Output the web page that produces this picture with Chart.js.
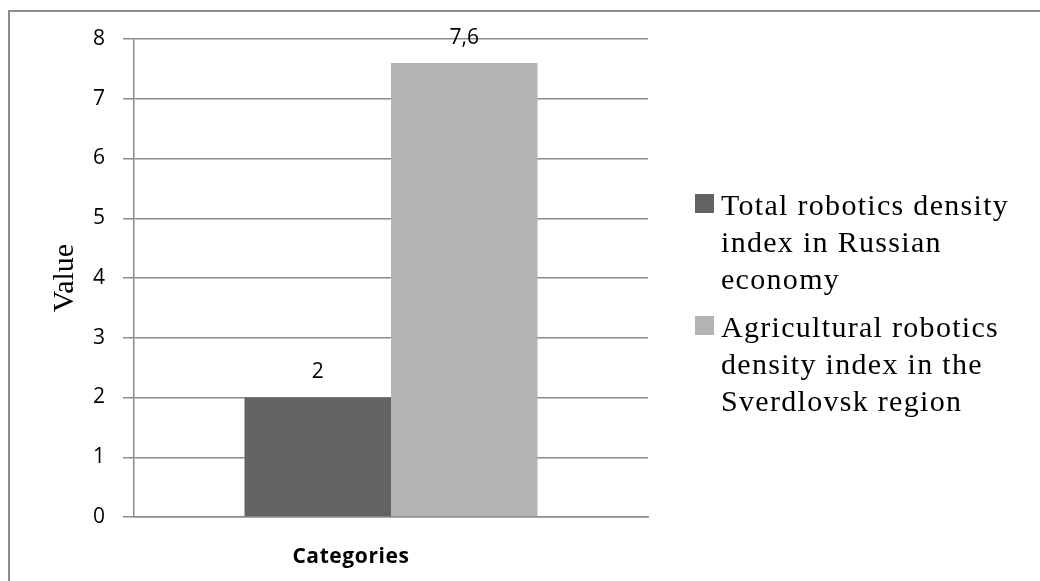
<!DOCTYPE html>
<html lang="en">
<head>
<meta charset="utf-8">
<title>Robotics density</title>
<script src="https://cdn.jsdelivr.net/npm/chart.js@4.4.0/dist/chart.umd.min.js"></script>
<style>
  html, body { margin: 0; padding: 0; background: #fff; }
  #wrap { position: relative; width: 1040px; height: 581px; overflow: hidden; }
  #frame { position: absolute; left: 8px; top: 10px; width: 1100px; height: 650px;
           border: 2px solid #8c8c8c; box-sizing: border-box; }
  #box { position: absolute; left: 0; top: 0; width: 1040px; height: 581px; }
  #xtitle { position: absolute; left: 251px; width: 200px; top: 542px; text-align: center;
            font-family: "Open Sans", "Liberation Sans", sans-serif; font-weight: bold;
            font-size: 21px; letter-spacing: 0.6px; line-height: 26px; color: #000; }
  #legend { position: absolute; left: 695px; top: 186px; width: 345px;
            font-family: "Liberation Serif", "Times New Roman", serif; font-size: 30px;
            letter-spacing: 1.3px; line-height: 37px; color: #000; white-space: nowrap; }
  #legend .item { position: relative; padding-left: 26px; margin-bottom: 11px; }
  #legend .sw { position: absolute; left: 0; top: 8px; width: 19px; height: 19px; }
</style>
</head>
<body>
<div id="wrap">
  <div id="frame"></div>
  <div id="box"><canvas id="mycanvas"></canvas></div>
  <div id="xtitle">Categories</div>
  <div id="legend"></div>
</div>

<script>
// one category, two series
const categories = [''];
const seriesNames = [
  ['Total robotics density', 'index in Russian', 'economy'],
  ['Agricultural robotics', 'density index in the', 'Sverdlovsk region']
];
const seriesValues = [[2], [7.6]];
const seriesColors = ['#636363', '#b3b3b3'];
const yTicks = [0, 1, 2, 3, 4, 5, 6, 7, 8];

const gridColor = '#8c8c8c';
const sansFont = '"Open Sans", "Liberation Sans", sans-serif';

// numbers above the bars, decimal comma
const barLabels = {
  id: 'barLabels',
  afterDatasetsDraw(chart) {
    const ctx = chart.ctx;
    ctx.save();
    ctx.font = '21px ' + sansFont;
    ctx.fillStyle = '#000';
    ctx.textAlign = 'center';
    ctx.textBaseline = 'middle';
    chart.data.datasets.forEach((ds, i) => {
      chart.getDatasetMeta(i).data.forEach((bar, j) => {
        ctx.fillText(String(ds.data[j]).replace('.', ','), bar.x, bar.y - 25);
      });
    });
    ctx.restore();
  }
};

const datasets = seriesValues.map((vals, i) => ({
  label: seriesNames[i].join(' '),
  data: vals,
  backgroundColor: seriesColors[i],
  borderWidth: 0,
  categoryPercentage: 0.57,
  barPercentage: 1
}));

new Chart(document.getElementById('mycanvas'), {
  type: 'bar',
  data: { labels: categories, datasets: datasets },
  plugins: [barLabels],
  options: {
    responsive: true,
    maintainAspectRatio: false,
    animation: false,
    layout: { padding: { left: 0, top: 39, right: 392, bottom: 0 } },
    plugins: { legend: { display: false }, tooltip: { enabled: false } },
    scales: {
      x: {
        grid: { display: false },
        border: { display: true, color: gridColor, width: 1.5 },
        ticks: { display: false },
        afterFit(scale) { scale.height = 64; }
      },
      y: {
        min: 0, max: 8,
        afterBuildTicks(scale) { scale.ticks = yTicks.map(v => ({ value: v })); },
        grid: { color: gridColor, lineWidth: 1.5, drawTicks: true, tickLength: 11 },
        border: { display: true, color: gridColor, width: 1.5 },
        ticks: {
          color: '#000', padding: 18,
          font: { family: sansFont, size: 21 }
        },
        title: {
          display: true, text: 'Value', color: '#000',
          font: { family: '"Liberation Serif", "Times New Roman", serif', size: 30 },
          padding: { top: 47, bottom: 0 }
        },
        afterFit(scale) { scale.width = 134; }
      }
    }
  }
});

// legend on the right, built from the same series arrays
const legend = document.getElementById('legend');
seriesNames.forEach((lines, i) => {
  const item = document.createElement('div');
  item.className = 'item';
  const sw = document.createElement('span');
  sw.className = 'sw';
  sw.style.background = seriesColors[i];
  item.appendChild(sw);
  lines.forEach((ln, k) => {
    if (k) item.appendChild(document.createElement('br'));
    item.appendChild(document.createTextNode(ln));
  });
  legend.appendChild(item);
});
</script>
</body>
</html>
